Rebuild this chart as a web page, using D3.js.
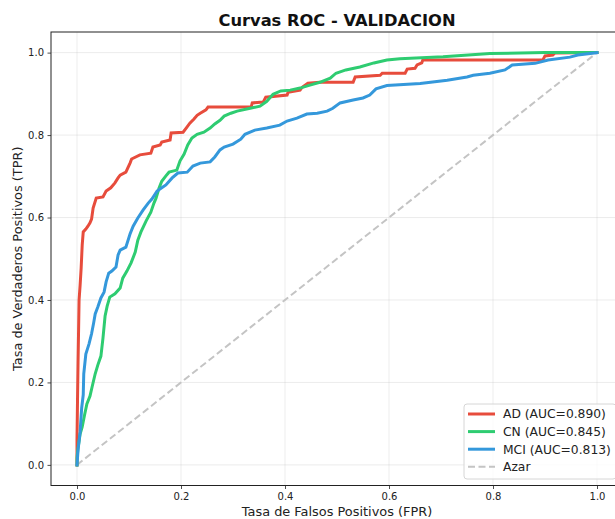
<!DOCTYPE html>
<html>
<head>
<meta charset="utf-8">
<script src="https://cdn.jsdelivr.net/npm/d3@7"></script>
<style>
  body { margin: 0; background: #fff; }
  svg { display: block; font-family: 'DejaVu Sans', sans-serif; }
</style>
</head>
<body>
<div id="chart"></div>
<script>
/* === ROC curves (validation) === */

var SERIES_NAMES = ['AD', 'CN', 'MCI'];
var SERIES_AUC = ['0.890', '0.845', '0.813'];
var SERIES_COLORS = ['#e74c3c', '#2ecc71', '#3498db'];

var AD_FPR = [0, 0, 0.001, 0.002, 0.004, 0.006, 0.008, 0.010, 0.012, 0.017, 0.021, 0.025, 0.028, 0.031, 0.037, 0.050, 0.056, 0.065, 0.073, 0.079, 0.083, 0.094, 0.102, 0.105, 0.121, 0.142, 0.146, 0.160, 0.163, 0.179, 0.181, 0.204, 0.210, 0.217, 0.225, 0.231, 0.237, 0.248, 0.252, 0.335, 0.337, 0.358, 0.363, 0.404, 0.406, 0.429, 0.433, 0.444, 0.467, 0.531, 0.535, 0.583, 0.587, 0.631, 0.635, 0.650, 0.654, 0.663, 0.665, 0.896, 0.900, 0.915, 0.919, 1];
var AD_TPR = [0, 0.061, 0.158, 0.247, 0.400, 0.436, 0.478, 0.533, 0.565, 0.572, 0.579, 0.587, 0.596, 0.623, 0.647, 0.650, 0.664, 0.672, 0.684, 0.696, 0.703, 0.710, 0.732, 0.742, 0.752, 0.756, 0.771, 0.776, 0.783, 0.788, 0.805, 0.807, 0.817, 0.829, 0.839, 0.848, 0.853, 0.861, 0.868, 0.868, 0.878, 0.880, 0.892, 0.897, 0.904, 0.909, 0.916, 0.926, 0.928, 0.928, 0.941, 0.945, 0.950, 0.950, 0.960, 0.962, 0.970, 0.975, 0.982, 0.982, 0.992, 0.994, 0.999, 1];

var CN_FPR = [0, 0, 0.002, 0.006, 0.010, 0.015, 0.019, 0.025, 0.029, 0.035, 0.040, 0.046, 0.050, 0.054, 0.058, 0.063, 0.073, 0.083, 0.088, 0.096, 0.104, 0.112, 0.117, 0.123, 0.133, 0.142, 0.148, 0.152, 0.158, 0.163, 0.171, 0.177, 0.192, 0.198, 0.206, 0.213, 0.221, 0.231, 0.244, 0.256, 0.265, 0.275, 0.283, 0.296, 0.308, 0.333, 0.352, 0.365, 0.377, 0.392, 0.410, 0.429, 0.448, 0.467, 0.487, 0.498, 0.517, 0.544, 0.571, 0.596, 0.621, 0.704, 0.794, 0.900, 1];
var CN_TPR = [0, 0.017, 0.041, 0.075, 0.092, 0.124, 0.148, 0.167, 0.189, 0.221, 0.242, 0.264, 0.308, 0.361, 0.385, 0.407, 0.415, 0.429, 0.453, 0.470, 0.490, 0.516, 0.545, 0.565, 0.592, 0.613, 0.635, 0.647, 0.672, 0.688, 0.701, 0.710, 0.715, 0.737, 0.754, 0.776, 0.793, 0.802, 0.807, 0.817, 0.827, 0.836, 0.846, 0.853, 0.858, 0.865, 0.870, 0.882, 0.899, 0.907, 0.909, 0.914, 0.921, 0.928, 0.938, 0.950, 0.958, 0.965, 0.975, 0.982, 0.985, 0.990, 0.998, 1, 1];

var MCI_FPR = [0, 0.002, 0.006, 0.009, 0.012, 0.013, 0.017, 0.023, 0.028, 0.032, 0.035, 0.040, 0.046, 0.052, 0.056, 0.061, 0.067, 0.075, 0.079, 0.083, 0.094, 0.102, 0.108, 0.117, 0.127, 0.137, 0.144, 0.154, 0.163, 0.171, 0.183, 0.194, 0.212, 0.223, 0.237, 0.256, 0.265, 0.275, 0.283, 0.300, 0.315, 0.323, 0.342, 0.365, 0.390, 0.404, 0.423, 0.442, 0.462, 0.481, 0.492, 0.506, 0.531, 0.550, 0.563, 0.575, 0.596, 0.660, 0.712, 0.750, 0.762, 0.794, 0.823, 0.837, 0.881, 0.906, 0.948, 0.963, 0.987, 1];
var MCI_TPR = [0, 0.036, 0.080, 0.138, 0.170, 0.221, 0.269, 0.293, 0.318, 0.344, 0.366, 0.383, 0.405, 0.419, 0.444, 0.465, 0.470, 0.480, 0.509, 0.521, 0.528, 0.560, 0.579, 0.599, 0.618, 0.635, 0.645, 0.664, 0.672, 0.679, 0.696, 0.708, 0.710, 0.725, 0.732, 0.735, 0.747, 0.764, 0.771, 0.778, 0.790, 0.802, 0.812, 0.817, 0.824, 0.834, 0.841, 0.851, 0.853, 0.858, 0.865, 0.878, 0.885, 0.890, 0.897, 0.912, 0.920, 0.925, 0.933, 0.941, 0.945, 0.950, 0.958, 0.970, 0.974, 0.982, 0.989, 0.994, 0.998, 1];

var TICKS = [0, 0.2, 0.4, 0.6, 0.8, 1.0];
var TICK_LABELS = ['0.0', '0.2', '0.4', '0.6', '0.8', '1.0'];

var width = 615, height = 519;
var margin = { left: 51, right: 623, top: 32, bottom: 485.5 };

var svg = d3.select('#chart').append('svg')
    .attr('width', width)
    .attr('height', height);

var x = d3.scaleLinear().domain([-0.05, 1.05]).range([margin.left, margin.right]);
var y = d3.scaleLinear().domain([-0.05, 1.05]).range([margin.bottom, margin.top]);

svg.append('defs').append('clipPath').attr('id', 'plot-clip')
    .append('rect')
    .attr('x', margin.left).attr('y', margin.top)
    .attr('width', margin.right - margin.left)
    .attr('height', margin.bottom - margin.top);

// Grid
var grid = svg.append('g').attr('stroke', '#b0b0b0').attr('stroke-opacity', 0.3).attr('stroke-width', 0.8);
TICKS.forEach(function(t) {
    grid.append('line')
        .attr('x1', x(t)).attr('x2', x(t))
        .attr('y1', margin.top).attr('y2', margin.bottom);
    grid.append('line')
        .attr('x1', margin.left).attr('x2', margin.right)
        .attr('y1', y(t)).attr('y2', y(t));
});

var plot = svg.append('g').attr('clip-path', 'url(#plot-clip)');

// Chance line
plot.append('line')
    .attr('x1', x(0)).attr('y1', y(0))
    .attr('x2', x(1)).attr('y2', y(1))
    .attr('stroke', '#c4c4c4')
    .attr('stroke-width', 2)
    .attr('stroke-dasharray', '7,3.5');

var seriesData = [
    d3.zip(AD_FPR, AD_TPR),
    d3.zip(CN_FPR, CN_TPR),
    d3.zip(MCI_FPR, MCI_TPR)
];

var line = d3.line()
    .x(function(d) { return x(d[0]); })
    .y(function(d) { return y(d[1]); });

seriesData.forEach(function(pts, i) {
    plot.append('path')
        .datum(pts)
        .attr('d', line)
        .attr('fill', 'none')
        .attr('stroke', SERIES_COLORS[i])
        .attr('stroke-width', 3)
        .attr('stroke-linejoin', 'miter')
        .attr('stroke-linecap', 'square');
});

// Axes
var xAxis = d3.axisBottom(x).tickValues(TICKS)
    .tickFormat(function(d, i) { return TICK_LABELS[i]; })
    .tickSizeInner(3.5).tickSizeOuter(0).tickPadding(3.5);
var yAxis = d3.axisLeft(y).tickValues(TICKS)
    .tickFormat(function(d, i) { return TICK_LABELS[i]; })
    .tickSizeInner(3.5).tickSizeOuter(0).tickPadding(3.5);

var gx = svg.append('g').attr('transform', 'translate(0,' + margin.bottom + ')').call(xAxis);
var gy = svg.append('g').attr('transform', 'translate(' + margin.left + ',0)').call(yAxis);
[gx, gy].forEach(function(g) {
    g.select('.domain').remove();
    g.selectAll('text').attr('font-size', 10).attr('fill', '#222').attr('font-family', 'DejaVu Sans');
    g.selectAll('line').attr('stroke', '#222').attr('stroke-width', 0.8);
});

// Spines
svg.append('rect')
    .attr('x', margin.left).attr('y', margin.top)
    .attr('width', margin.right - margin.left)
    .attr('height', margin.bottom - margin.top)
    .attr('fill', 'none')
    .attr('stroke', '#222')
    .attr('stroke-width', 1);

// Labels
svg.append('text')
    .attr('x', (margin.left + margin.right) / 2).attr('y', 26)
    .attr('text-anchor', 'middle')
    .attr('font-size', 16.3).attr('font-weight', 'bold').attr('fill', '#111')
    .text('Curvas ROC - VALIDACION');

svg.append('text')
    .attr('x', (margin.left + margin.right) / 2).attr('y', 516)
    .attr('text-anchor', 'middle')
    .attr('font-size', 12.9).attr('fill', '#222')
    .text('Tasa de Falsos Positivos (FPR)');

svg.append('text')
    .attr('transform', 'translate(22,' + (margin.top + margin.bottom) / 2 + ') rotate(-90)')
    .attr('text-anchor', 'middle')
    .attr('font-size', 12.9).attr('fill', '#222')
    .text('Tasa de Verdaderos Positivos (TPR)');

// Legend
var legend = svg.append('g').attr('transform', 'translate(464,404)');
legend.append('rect')
    .attr('width', 152).attr('height', 75)
    .attr('rx', 3)
    .attr('fill', '#fff').attr('fill-opacity', 0.8)
    .attr('stroke', '#d6d6d6');

var legendItems = SERIES_NAMES.map(function(n, i) {
    return { label: n + ' (AUC=' + SERIES_AUC[i] + ')', color: SERIES_COLORS[i], dash: null, w: 3 };
});
legendItems.push({ label: 'Azar', color: '#c4c4c4', dash: '7,3.5', w: 2 });

legendItems.forEach(function(d, i) {
    var ly = 10 + i * 17.6;
    legend.append('line')
        .attr('x1', 4).attr('x2', 31)
        .attr('y1', ly).attr('y2', ly)
        .attr('stroke', d.color).attr('stroke-width', d.w)
        .attr('stroke-dasharray', d.dash);
    legend.append('text')
        .attr('x', 39).attr('y', ly).attr('dy', '0.36em')
        .attr('font-size', 12.3).attr('fill', '#222')
        .text(d.label);
});
</script>
</body>
</html>
